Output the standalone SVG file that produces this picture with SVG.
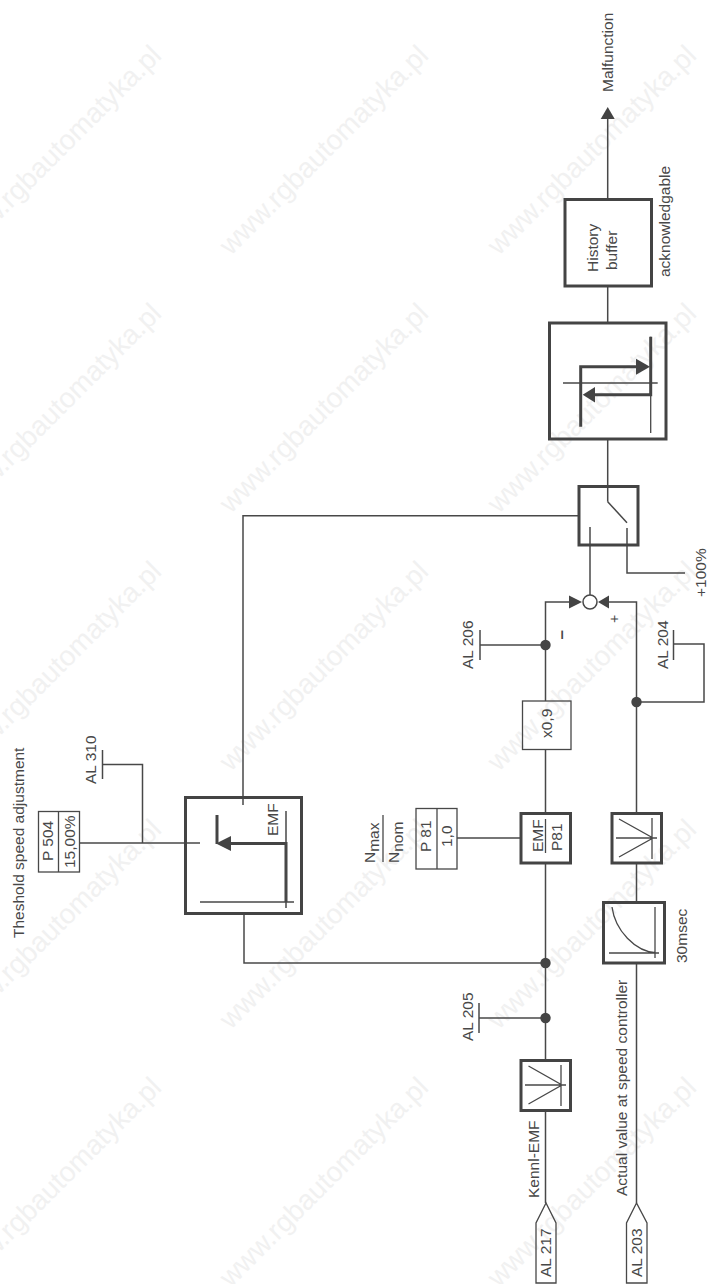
<svg xmlns="http://www.w3.org/2000/svg" width="710" height="1284" viewBox="0 0 710 1284">
<style>
text{font-family:"Liberation Sans",Arial,sans-serif;font-size:15.5px;fill:#484848}
.wm text{font-size:28px;fill:#f1f1f1;text-anchor:end}
.l{fill:none;stroke:#484848;stroke-width:1.5}
.t{fill:none;stroke:#484848;stroke-width:1.3}
.b{fill:none;stroke:#444;stroke-width:3}
.h{fill:none;stroke:#444;stroke-width:3}
.f{fill:#444;stroke:none}
</style>
<rect width="710" height="1284" fill="#fff"/>
<g id="watermark" class="wm">
<text transform="translate(430,-201) rotate(-45)">www.rgbautomatyka.pl</text>
<text transform="translate(698,-201) rotate(-45)">www.rgbautomatyka.pl</text>
<text transform="translate(163,57) rotate(-45)">www.rgbautomatyka.pl</text>
<text transform="translate(430,57) rotate(-45)">www.rgbautomatyka.pl</text>
<text transform="translate(698,57) rotate(-45)">www.rgbautomatyka.pl</text>
<text transform="translate(163,315) rotate(-45)">www.rgbautomatyka.pl</text>
<text transform="translate(430,315) rotate(-45)">www.rgbautomatyka.pl</text>
<text transform="translate(698,315) rotate(-45)">www.rgbautomatyka.pl</text>
<text transform="translate(163,573) rotate(-45)">www.rgbautomatyka.pl</text>
<text transform="translate(430,573) rotate(-45)">www.rgbautomatyka.pl</text>
<text transform="translate(698,573) rotate(-45)">www.rgbautomatyka.pl</text>
<text transform="translate(163,831) rotate(-45)">www.rgbautomatyka.pl</text>
<text transform="translate(430,831) rotate(-45)">www.rgbautomatyka.pl</text>
<text transform="translate(698,831) rotate(-45)">www.rgbautomatyka.pl</text>
<text transform="translate(163,1089) rotate(-45)">www.rgbautomatyka.pl</text>
<text transform="translate(430,1089) rotate(-45)">www.rgbautomatyka.pl</text>
<text transform="translate(698,1089) rotate(-45)">www.rgbautomatyka.pl</text>
</g>
<g id="connectors">
<path class="l" d="M79 843H200M142.5 843V764.5H103"/>
<path class="l" d="M243 805V515.7H579"/>
<path class="l" d="M244 914V963H545.5"/>
<path class="l" d="M545.5 1203V1111M545.5 1060V1018M545.5 1018H479M545.5 1018V863M545.5 813V749M545.5 701V602H570"/>
<path class="l" d="M457 838H521"/>
<path class="l" d="M636.5 1203V963M636.5 902V863M636.5 813V602H608"/>
<path class="l" d="M636.5 702H704V644H673.5"/>
<path class="l" d="M545.5 645H480"/>
<path class="l" d="M590 595V527"/>
<path class="l" d="M627 528V573H685"/>
<path class="l" d="M607.7 501.7V439M607.7 323V286M607.7 199V118"/>
<polygon class="f" points="582,602 569,595.5 569,608.5"/>
<polygon class="f" points="598,602 609,595.5 609,608.5"/>
<polygon class="f" points="607.7,107 600.7,119 614.7,119"/>
<circle class="f" cx="545.5" cy="963" r="5.2"/>
<circle class="f" cx="545.5" cy="1018" r="5.2"/>
<circle class="f" cx="545.5" cy="645" r="5.2"/>
<circle class="f" cx="636.5" cy="702" r="5.2"/>
</g>
<g id="threshold-label"><text transform="translate(24,938) rotate(-90)">Theshold speed adjustment</text></g>
<g id="p504">
<rect class="t" x="38.5" y="811.5" width="41" height="60.5"/>
<path class="t" d="M58.5 811.5V872"/>
<text transform="translate(53,861) rotate(-90)">P 504</text>
<text transform="translate(74.5,868) rotate(-90)">15,00%</text>
</g>
<g id="al310">
<path class="l" d="M102.5 750V779"/>
<text transform="translate(96,784) rotate(-90)">AL 310</text>
</g>
<g id="threshold-block">
<rect class="b" x="185.5" y="797.5" width="116" height="116"/>
<path class="h" d="M217 815V844"/>
<path class="h" d="M231 843.5H286V902"/>
<polygon class="f" points="216,843.5 231,836 231,851"/>
<path class="l" d="M286 811V908M200 902H294"/>
<text transform="translate(278,836) rotate(-90)">EMF</text>
</g>
<g id="switch">
<rect class="b" x="579" y="486.5" width="59" height="58.5"/>
<path class="l" d="M607.7 501.7L627 522.7"/>
</g>
<g id="sum"><circle cx="590" cy="602" r="7" fill="#fff" stroke="#484848" stroke-width="1.5"/></g>
<g id="minus"><text style="font-size:17px;font-weight:bold" transform="translate(566.5,639.5) rotate(-90)">–</text></g>
<g id="plus"><text style="font-size:14px" transform="translate(618.5,623) rotate(-90)">+</text></g>
<g id="plus100"><text transform="translate(706,597) rotate(-90)">+100%</text></g>
<g id="hysteresis">
<rect class="b" x="549.5" y="323" width="116.5" height="116"/>
<path class="t" d="M563 383H657.7M650.7 336.7V433"/>
<path class="h" d="M580.7 426.7V366.7H637"/>
<path class="h" d="M650.7 336.7V394.7H595"/>
<polygon class="f" points="650,366.7 636,358.7 636,374.7"/>
<polygon class="f" points="582.7,394.7 595,387 595,402.5"/>
</g>
<g id="history">
<rect class="b" x="565" y="199.5" width="86.5" height="86.5"/>
<text transform="translate(598,272) rotate(-90)">History</text>
<text transform="translate(617,270) rotate(-90)">buffer</text>
</g>
<g id="ack"><text transform="translate(670,277) rotate(-90)">acknowledgable</text></g>
<g id="malfunction"><text transform="translate(612.5,92) rotate(-90)">Malfunction</text></g>
<g id="al206"><path class="l" d="M480 630V660"/><text transform="translate(473,669) rotate(-90)">AL 206</text></g>
<g id="al204"><path class="l" d="M673.5 630V660"/><text transform="translate(668,669) rotate(-90)">AL 204</text></g>
<g id="al205"><path class="l" d="M479 1003V1033"/><text transform="translate(473,1041) rotate(-90)">AL 205</text></g>
<g id="x09">
<rect class="t" x="522.5" y="701" width="48.5" height="48.5"/>
<text transform="translate(552,738) rotate(-90)">x0,9</text>
</g>
<g id="emf-p81">
<rect class="b" x="521" y="813.5" width="49.5" height="49.5"/>
<path class="t" d="M545.5 819V853"/>
<text transform="translate(543,852) rotate(-90)">EMF</text>
<text transform="translate(562,851) rotate(-90)">P81</text>
</g>
<g id="p81">
<rect class="t" x="416" y="808.5" width="41" height="60.5"/>
<path class="t" d="M437 808.5V869"/>
<text transform="translate(431,852) rotate(-90)">P 81</text>
<text transform="translate(452,847) rotate(-90)">1,0</text>
</g>
<g id="ratio">
<path class="t" d="M383 815V862"/>
<text transform="translate(375,863) rotate(-90)">N<tspan dy="4">max</tspan></text>
<text transform="translate(399,863) rotate(-90)">N<tspan dy="4">nom</tspan></text>
</g>
<g id="scale-lower">
<rect class="b" x="612" y="813.5" width="49.5" height="49.5"/>
<path class="t" d="M619 819L653 838L619 857M616 838H657M652 818V859"/>
</g>
<g id="filter">
<rect class="b" x="603.5" y="902.5" width="61" height="60.5"/>
<path class="t" d="M612 907C615 930 635 952 657 953M655 907V958M609 953H659"/>
</g>
<g id="t30"><text transform="translate(687,963) rotate(-90)">30msec</text></g>
<g id="actual-label"><text transform="translate(627,1196) rotate(-90)">Actual value at speed controller</text></g>
<g id="scale-upper">
<rect class="b" x="521" y="1060.5" width="49.5" height="50"/>
<path class="t" d="M528.5 1066L562 1085L528.5 1104M525 1085H566M561 1065V1106"/>
</g>
<g id="kennl-label"><text transform="translate(539,1198) rotate(-90)">Kennl-EMF</text></g>
<g id="al217">
<path class="t" d="M546 1203L536 1223V1283H556V1223Z"/>
<text transform="translate(551,1277) rotate(-90)">AL 217</text>
</g>
<g id="al203">
<path class="t" d="M636.5 1203L626.5 1223V1283H647V1223Z"/>
<text transform="translate(642,1277) rotate(-90)">AL 203</text>
</g>
</svg>
